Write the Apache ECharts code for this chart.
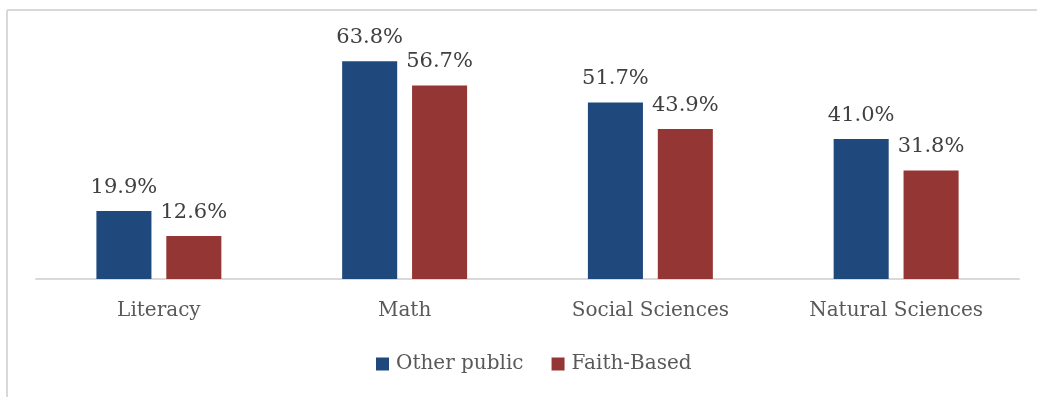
<!DOCTYPE html>
<html>
<head>
<meta charset="utf-8">
<style>
  html, body { margin: 0; padding: 0; background: #fff; }
  #chart { width: 1037px; height: 397px; }
</style>
<script src="https://cdn.jsdelivr.net/npm/echarts@6/dist/echarts.min.js"></script>
</head>
<body>
<div id="chart"></div>
<script>
// Share of students by subject area, two school types
const categories = ['Literacy', 'Math', 'Social Sciences', 'Natural Sciences'];
const otherPublic = [19.9, 63.8, 51.7, 41.0];
const faithBased = [12.6, 56.7, 43.9, 31.8];
const seriesNames = ['Other public', 'Faith-Based'];

const FONT = '"DejaVu Serif", "Liberation Serif", serif';

const chart = echarts.init(document.getElementById('chart'), null, { renderer: 'canvas' });

const labelStyle = {
  show: true,
  position: 'top',
  distance: 13,
  fontFamily: FONT,
  fontSize: 21,
  color: '#404040',
  formatter: p => p.value.toFixed(1) + '%'
};

chart.setOption({
  animation: false,
  backgroundColor: '#fff',
  graphic: [
    { type: 'line', shape: { x1: 7, y1: 10, x2: 1037, y2: 10 }, style: { stroke: '#d9d9d9', lineWidth: 2 } },
    { type: 'line', shape: { x1: 7, y1: 10, x2: 7, y2: 397 }, style: { stroke: '#d9d9d9', lineWidth: 2 } }
  ],
  legend: {
    data: seriesNames,
    left: 371,
    top: 349,
    icon: 'rect',
    itemWidth: 13,
    itemHeight: 13,
    itemGap: 28,
    textStyle: { fontFamily: FONT, fontSize: 20, color: '#595959', padding: [0, 0, 0, 2] }
  },
  grid: { left: 36, right: 18, top: 40, bottom: 118, containLabel: false },
  xAxis: {
    type: 'category',
    data: categories,
    axisLine: { lineStyle: { color: '#d9d9d9', width: 2 } },
    axisTick: { show: false },
    axisLabel: { fontFamily: FONT, fontSize: 20, color: '#595959', margin: 22 }
  },
  yAxis: {
    type: 'value',
    min: 0,
    max: 70,
    show: false,
    splitLine: { show: false }
  },
  series: [
    {
      name: seriesNames[0],
      type: 'bar',
      data: otherPublic,
      barWidth: '22.4%',
      barGap: '27%',
      itemStyle: { color: '#1f497d' },
      label: labelStyle
    },
    {
      name: seriesNames[1],
      type: 'bar',
      data: faithBased,
      barWidth: '22.4%',
      barGap: '27%',
      itemStyle: { color: '#943634' },
      label: labelStyle
    }
  ]
});
</script>
</body>
</html>
